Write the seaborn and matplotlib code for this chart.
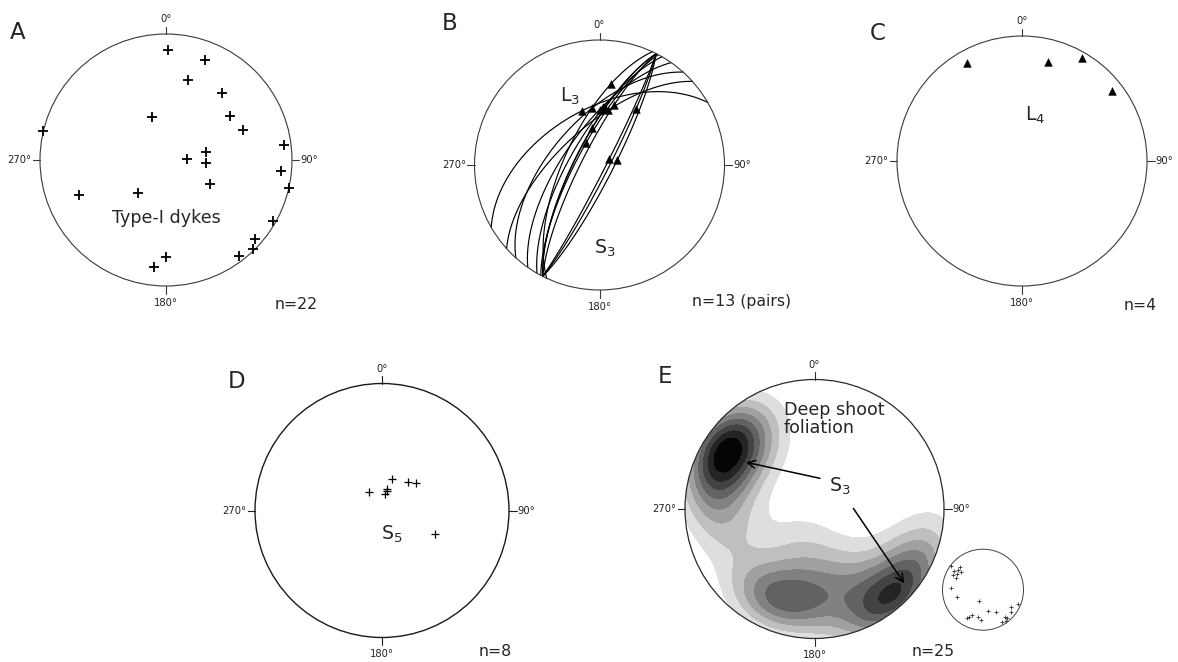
import numpy as np
import pandas as pd
import matplotlib
matplotlib.use("Agg")
import matplotlib.pyplot as plt
from matplotlib.patches import Circle
import seaborn as sns

sns.set_theme(style="white")
plt.rcParams['font.family'] = ['DejaVu Sans']

# ---------------- data (trend / plunge in degrees, lower hemisphere) ----------------
# A: poles to Type-I dykes
dyke_trend = [1.2, 21.1, 15.2, 39.7, 342.4, 55.4, 68.7, 283.3, 82.6, 79.2, 87.2, 94.3,
              95.6, 119.1, 102.7, 248.1, 220.7, 119.8, 131.6, 135.8, 142.9, 180.0, 186.4]
dyke_plunge = [13.8, 15.8, 34.5, 31.2, 60.7, 37.9, 34.7, 0.0, 5.9, 63.4, 76.7, 63.8,
               8.9, 57.4, 0.2, 26.3, 61.7, 2.4, 5.8, 1.2, 4.6, 24.0, 15.9]

# B: S3 planes (right-hand-rule strike / dip) paired with L3 lineations
s3_strike = [205, 240, 222, 207, 228, 207, 27, 207, 208, 27, 27, 215, 210]
s3_dip = [67.2, 53.0, 59.4, 74.2, 64.9, 78.7, 84.0, 74.0, 75.4, 86.1, 81.1, 67.0, 70.9]
l3_trend = [7.9, 341.8, 352.2, 5.5, 9.0, 13.6, 33.2, 348.1, 328.2, 58.4, 74.3, 0.0, 3.7]
l3_plunge = [34.9, 52.5, 52.2, 52.4, 53.3, 49.1, 45.7, 65.5, 73.3, 82.6, 78.0, 53.7, 51.9]

# C: L4 lineations
l4_trend = [330.9, 14.9, 30.1, 52.0]
l4_plunge = [11.0, 19.0, 5.2, 9.6]

# D: poles to S5
s5_trend = [17.2, 42.0, 50.4, 324.5, 13.7, 13.8, 11.3, 113.9]
s5_plunge = [69.1, 65.4, 61.9, 75.8, 75.6, 77.4, 79.2, 52.4]

# E: poles to deep shoot foliation
fol_trend = [306.3, 313.5, 308.8, 309.2, 295.6, 301.0, 292.7, 273.6, 254.9, 197.8,
             166.2, 150.3, 121.3, 112.5, 128.0, 141.1, 139.8, 210.0, 206.9, 202.4,
             190.0, 184.0, 150.0, 144.0, 303.1]
fol_plunge = [2.3, 21.2, 22.8, 31.0, 18.0, 25.2, 28.2, 22.0, 35.0, 66.0,
              44.6, 35.8, 20.4, 6.5, 13.4, 15.0, 7.8, 20.5, 25.8, 32.4,
              31.6, 26.0, 9.0, 6.0, 15.1]

cardinal_labels = ['0°', '90°', '180°', '270°']

# ---------------- helpers ----------------
W, H = 1178, 662
fig = plt.figure(figsize=(W / 100, H / 100), dpi=100)


def project(trend, plunge):
    """Equal-area (Schmidt) lower-hemisphere projection onto the unit circle."""
    t = np.radians(np.asarray(trend, float))
    p = np.radians(np.asarray(plunge, float))
    r = np.sqrt(2) * np.sin((np.pi / 2 - p) / 2)
    return r * np.sin(t), r * np.cos(t)


def unit_vectors(trend, plunge):
    t = np.radians(np.asarray(trend, float))
    p = np.radians(np.asarray(plunge, float))
    return np.stack([np.cos(p) * np.sin(t), np.cos(p) * np.cos(t), np.sin(p)], axis=-1)


def great_circle(strike, dip, n=181):
    s = np.radians(strike)
    dd = np.radians(strike + 90)
    d = np.radians(dip)
    sv = np.array([np.sin(s), np.cos(s), 0.0])
    dv = np.array([np.cos(d) * np.sin(dd), np.cos(d) * np.cos(dd), np.sin(d)])
    a = np.linspace(0, np.pi, n)[:, None]
    v = np.cos(a) * sv + np.sin(a) * dv
    plunge = np.degrees(np.arcsin(np.clip(v[:, 2], -1, 1)))
    trend = np.degrees(np.arctan2(v[:, 0], v[:, 1]))
    return project(trend, plunge)


def net_axes(cx, cy, R, L=1.5):
    ax = fig.add_axes([(cx - L * R) / W, (H - cy - L * R) / H, 2 * L * R / W, 2 * L * R / H])
    ax.set_xlim(-L, L)
    ax.set_ylim(-L, L)
    ax.set_axis_off()
    return ax


def primitive(ax, R, lw=0.8, color='#3a3a3a', fs=7.2):
    circ = Circle((0, 0), 1, fill=False, lw=lw, ec=color, zorder=6)
    ax.add_patch(circ)
    tk = 7.5 / R
    for ang, lab in zip([0, 90, 180, 270], cardinal_labels):
        s, c = np.sin(np.radians(ang)), np.cos(np.radians(ang))
        ax.plot([s, s * (1 + tk)], [c, c * (1 + tk)], color=color, lw=0.8, zorder=6)
        if ang == 0:
            ax.text(0, 1 + tk + 2.5 / R, lab, ha='center', va='bottom', fontsize=fs, color='#222')
        elif ang == 180:
            ax.text(0, -1 - tk - 4 / R, lab, ha='center', va='top', fontsize=fs, color='#222')
        elif ang == 90:
            ax.text(1 + tk + 1 / R, 0, lab, ha='left', va='center', fontsize=fs, color='#222')
        else:
            ax.text(-1 - tk - 1 / R, 0, lab, ha='right', va='center', fontsize=fs, color='#222')
    return circ


LETTER_FS = 16.5
N_FS = 11.3
LABEL_FS = 12.6

# ---------------- A ----------------
axA = net_axes(166, 160, 126)
primitive(axA, 126)
x, y = project(dyke_trend, dyke_plunge)
sns.scatterplot(x=x, y=y, marker='+', s=60, color='black', linewidth=1.3, ax=axA, zorder=7)
axA.text(-1.175, 1.008, 'A', fontsize=LETTER_FS, ha='center', va='center')
axA.text(0, -0.463, 'Type-I dykes', fontsize=LABEL_FS, ha='center', va='center')
axA.text(1.03, -1.143, 'n=22', fontsize=N_FS, ha='center', va='center')

# ---------------- B ----------------
axB = net_axes(599.5, 165, 125)
primitive(axB, 125)
frames = []
for i, (st, dp) in enumerate(zip(s3_strike, s3_dip)):
    gx, gy = great_circle(st, dp)
    frames.append(pd.DataFrame({'x': gx, 'y': gy, 'plane': i}))
arcs = pd.concat(frames, ignore_index=True)
sns.lineplot(data=arcs, x='x', y='y', units='plane', estimator=None, sort=False,
             color='black', lw=0.85, ax=axB, zorder=4)
x, y = project(l3_trend, l3_plunge)
sns.scatterplot(x=x, y=y, marker='^', s=30, color='black', edgecolor='black',
                linewidth=0.4, ax=axB, zorder=7)
axB.text(-1.196, 1.128, 'B', fontsize=LETTER_FS, ha='center', va='center')
axB.text(-0.236, 0.546, 'L$_3$', fontsize=LABEL_FS + 1, ha='center', va='center')
axB.text(0.044, -0.664, 'S$_3$', fontsize=LABEL_FS + 1, ha='center', va='center')
axB.text(0.738, -1.09, 'n=13 (pairs)', fontsize=N_FS, ha='left', va='center')

# ---------------- C ----------------
axC = net_axes(1022, 161, 125)
primitive(axC, 125)
x, y = project(l4_trend, l4_plunge)
sns.scatterplot(x=x, y=y, marker='^', s=30, color='black', edgecolor='black',
                linewidth=0.4, ax=axC, zorder=7)
axC.text(-1.152, 1.024, 'C', fontsize=LETTER_FS, ha='center', va='center')
axC.text(0.104, 0.368, 'L$_4$', fontsize=LABEL_FS + 1, ha='center', va='center')
axC.text(0.944, -1.152, 'n=4', fontsize=N_FS, ha='center', va='center')

# ---------------- D ----------------
axD = net_axes(382, 510.5, 127)
primitive(axD, 127, lw=1.0, color='#1a1a1a')
x, y = project(s5_trend, s5_plunge)
sns.scatterplot(x=x, y=y, marker='+', s=36, color='black', linewidth=0.9, ax=axD, zorder=7)
axD.text(-1.142, 1.012, 'D', fontsize=LETTER_FS, ha='center', va='center')
axD.text(0.076, -0.185, 'S$_5$', fontsize=LABEL_FS + 1, ha='center', va='center')
axD.text(0.89, -1.112, 'n=8', fontsize=N_FS, ha='center', va='center')

# ---------------- E ----------------
axE = net_axes(814.5, 509, 129.5)
circE = primitive(axE, 129.5, lw=0.9, color='#2a2a2a')

g = np.linspace(-1.03, 1.03, 361)
GX, GY = np.meshgrid(g, g)
rr = np.clip(np.hypot(GX, GY), 0, 1)
grid_plunge = 90 - 2 * np.degrees(np.arcsin(rr / np.sqrt(2)))
grid_trend = np.degrees(np.arctan2(GX, GY))
gv = unit_vectors(grid_trend, grid_plunge)
dv = unit_vectors(fol_trend, fol_plunge)
kappa = 12.0
dens = np.exp(kappa * ((gv @ dv.T) - 1)).sum(axis=-1)
dens = dens / dens.max()
levels = np.linspace(0.12, 1.0001, 9)
greys = sns.blend_palette(['#dedede', '#050505'], 8)
cs = axE.contourf(GX, GY, dens, levels=levels, colors=greys, zorder=2)
clip = Circle((0, 0), 1, transform=axE.transData)
cs.set_clip_path(clip)

axE.text(-1.154, 1.022, 'E', fontsize=LETTER_FS, ha='center', va='center')
axE.text(-0.236, 0.695, 'Deep shoot\nfoliation', fontsize=LABEL_FS, ha='left', va='center',
         linespacing=0.95, zorder=8)
axE.text(0.197, 0.172, 'S$_3$', fontsize=LABEL_FS + 1, ha='center', va='center', zorder=8)
arrow = dict(arrowstyle='->', lw=1.1, color='black', mutation_scale=14, shrinkA=0, shrinkB=0)
axE.annotate('', xy=(-0.529, 0.361), xytext=(0.042, 0.237), arrowprops=arrow, zorder=8)
axE.annotate('', xy=(0.693, -0.574), xytext=(0.30, 0.005), arrowprops=arrow, zorder=8)
axE.text(0.915, -1.102, 'n=25', fontsize=N_FS, ha='center', va='center')

# inset with the individual poles
axI = net_axes(983, 589.7, 40.5, L=1.1)
axI.add_patch(Circle((0, 0), 1, fill=False, lw=0.7, ec='#444'))
x, y = project(fol_trend, fol_plunge)
sns.scatterplot(x=x, y=y, marker='+', s=8, color='#333333', linewidth=0.6, ax=axI, zorder=7)

for ax in (axA, axB, axC, axD, axE, axI):
    ax.set_xlabel('')
    ax.set_ylabel('')

fig.savefig('out.png', dpi=100)
